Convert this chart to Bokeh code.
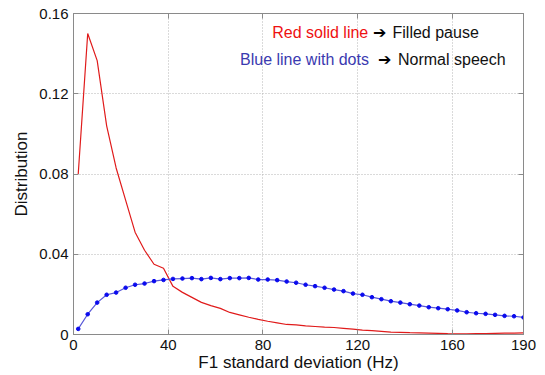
from bokeh.plotting import figure
from bokeh.models import Range1d, FixedTicker, LinearAxis, Label
from bokeh.embed import file_html
from bokeh.resources import INLINE

# ---- data ----
x_vals = [2 + 4 * k for k in range(48)]
red_filled_pause = [0.080, 0.150, 0.1365, 0.104, 0.083, 0.067, 0.051, 0.042, 0.035, 0.033,
                    0.024, 0.021, 0.0185, 0.016, 0.0144, 0.013, 0.011, 0.0098, 0.0086, 0.0075,
                    0.0066, 0.0058, 0.0050, 0.0048, 0.0043, 0.0040, 0.0037, 0.0035, 0.0031, 0.0027,
                    0.0022, 0.0019, 0.0016, 0.0012, 0.0011, 0.0009, 0.0008, 0.0007, 0.0006, 0.0004,
                    0.0003, 0.0003, 0.0004, 0.0005, 0.0006, 0.0007, 0.0007, 0.0008]
blue_normal_speech = [0.0028, 0.0101, 0.0159, 0.0198, 0.0209, 0.0233, 0.0248, 0.0254, 0.0266, 0.0272,
                      0.0277, 0.0279, 0.0281, 0.0276, 0.0282, 0.0276, 0.0281, 0.0281, 0.0282, 0.0274,
                      0.0274, 0.0271, 0.0264, 0.0258, 0.0248, 0.0241, 0.0233, 0.0224, 0.0216, 0.0204,
                      0.0198, 0.0186, 0.0176, 0.0166, 0.0159, 0.0151, 0.0144, 0.0136, 0.0131, 0.0126,
                      0.0120, 0.0111, 0.0106, 0.0103, 0.0098, 0.0093, 0.0091, 0.0085]
x_ticks = [0, 40, 80, 120, 160, 190]
y_ticks = [0, 0.04, 0.08, 0.12, 0.16]
y_tick_labels = ["0", "0.04", "0.08", "0.12", "0.16"]

FONT = "Liberation Sans"

p = figure(width=545, height=375, output_backend="svg", toolbar_location=None,
           x_range=Range1d(0, 190), y_range=Range1d(0, 0.16),
           min_border_left=73, min_border_right=22, min_border_top=13, min_border_bottom=41)
p.background_fill_color = "white"
p.border_fill_color = "white"
p.outline_line_color = "#8a8a8a"
p.outline_line_width = 1

for ax in (p.xaxis[0], p.yaxis[0]):
    ax.axis_line_color = "#8a8a8a"
    ax.major_tick_line_color = "#8a8a8a"
    ax.major_tick_in = 5
    ax.major_tick_out = 0
    ax.minor_tick_line_color = None
    ax.major_label_text_font = FONT
    ax.major_label_text_font_size = "15px"
    ax.major_label_text_color = "#111111"
    ax.axis_label_text_font = FONT
    ax.axis_label_text_font_size = "17px"
    ax.axis_label_text_font_style = "normal"
    ax.axis_label_text_color = "#111111"

p.xaxis[0].ticker = FixedTicker(ticks=x_ticks)
p.yaxis[0].ticker = FixedTicker(ticks=y_ticks)
p.yaxis[0].major_label_overrides = {t: s for t, s in zip(y_ticks, y_tick_labels)}
p.xaxis[0].axis_label = "F1 standard deviation (Hz)"
p.yaxis[0].axis_label = "Distribution"
p.xaxis[0].major_label_standoff = 5
p.yaxis[0].major_label_standoff = 5
p.xaxis[0].axis_label_standoff = 0
p.yaxis[0].axis_label_standoff = 5

# mirrored ticks (box style), no labels
for loc, ticks in (("right", y_ticks), ("above", x_ticks)):
    a = LinearAxis(ticker=FixedTicker(ticks=ticks))
    a.major_label_overrides = {t: "" for t in ticks}
    a.major_label_standoff = 0
    a.axis_line_color = "#8a8a8a"
    a.major_tick_line_color = "#8a8a8a"
    a.major_tick_in = 5
    a.major_tick_out = 0
    a.minor_tick_line_color = None
    p.add_layout(a, loc)

p.xgrid.ticker = FixedTicker(ticks=x_ticks)
p.ygrid.ticker = FixedTicker(ticks=y_ticks)
for g in (p.xgrid[0], p.ygrid[0]):
    g.grid_line_color = "#b5b5b5"
    g.grid_line_dash = "1 2"
    g.grid_line_width = 1

p.line(x_vals, red_filled_pause, line_color="#e01b1b", line_width=1.2)
p.line(x_vals, blue_normal_speech, line_color="#5858d8", line_width=1.2)
p.scatter(x_vals, blue_normal_speech, size=3.6, marker="circle",
          fill_color="#0a0aee", line_color="#0a0aee")

# annotation texts (data coordinates)
def lab(x, y, text, color, size="16px"):
    p.add_layout(Label(x=x, y=y, text=text, text_color=color, text_font=FONT,
                       text_font_size=size, text_baseline="middle", text_align="left"))

lab(83.9, 0.1507, "Red solid line", "#ee1111")
lab(126.6, 0.1507, "\u2794", "#000000")
lab(134.7, 0.1507, "Filled pause", "#111111")
lab(70.3, 0.1369, "Blue line with dots", "#3a3ab0")
lab(128.5, 0.1369, "\u2794", "#000000")
lab(137.0, 0.1369, "Normal speech", "#111111")

open("out.html", "w").write(file_html(p, INLINE))
